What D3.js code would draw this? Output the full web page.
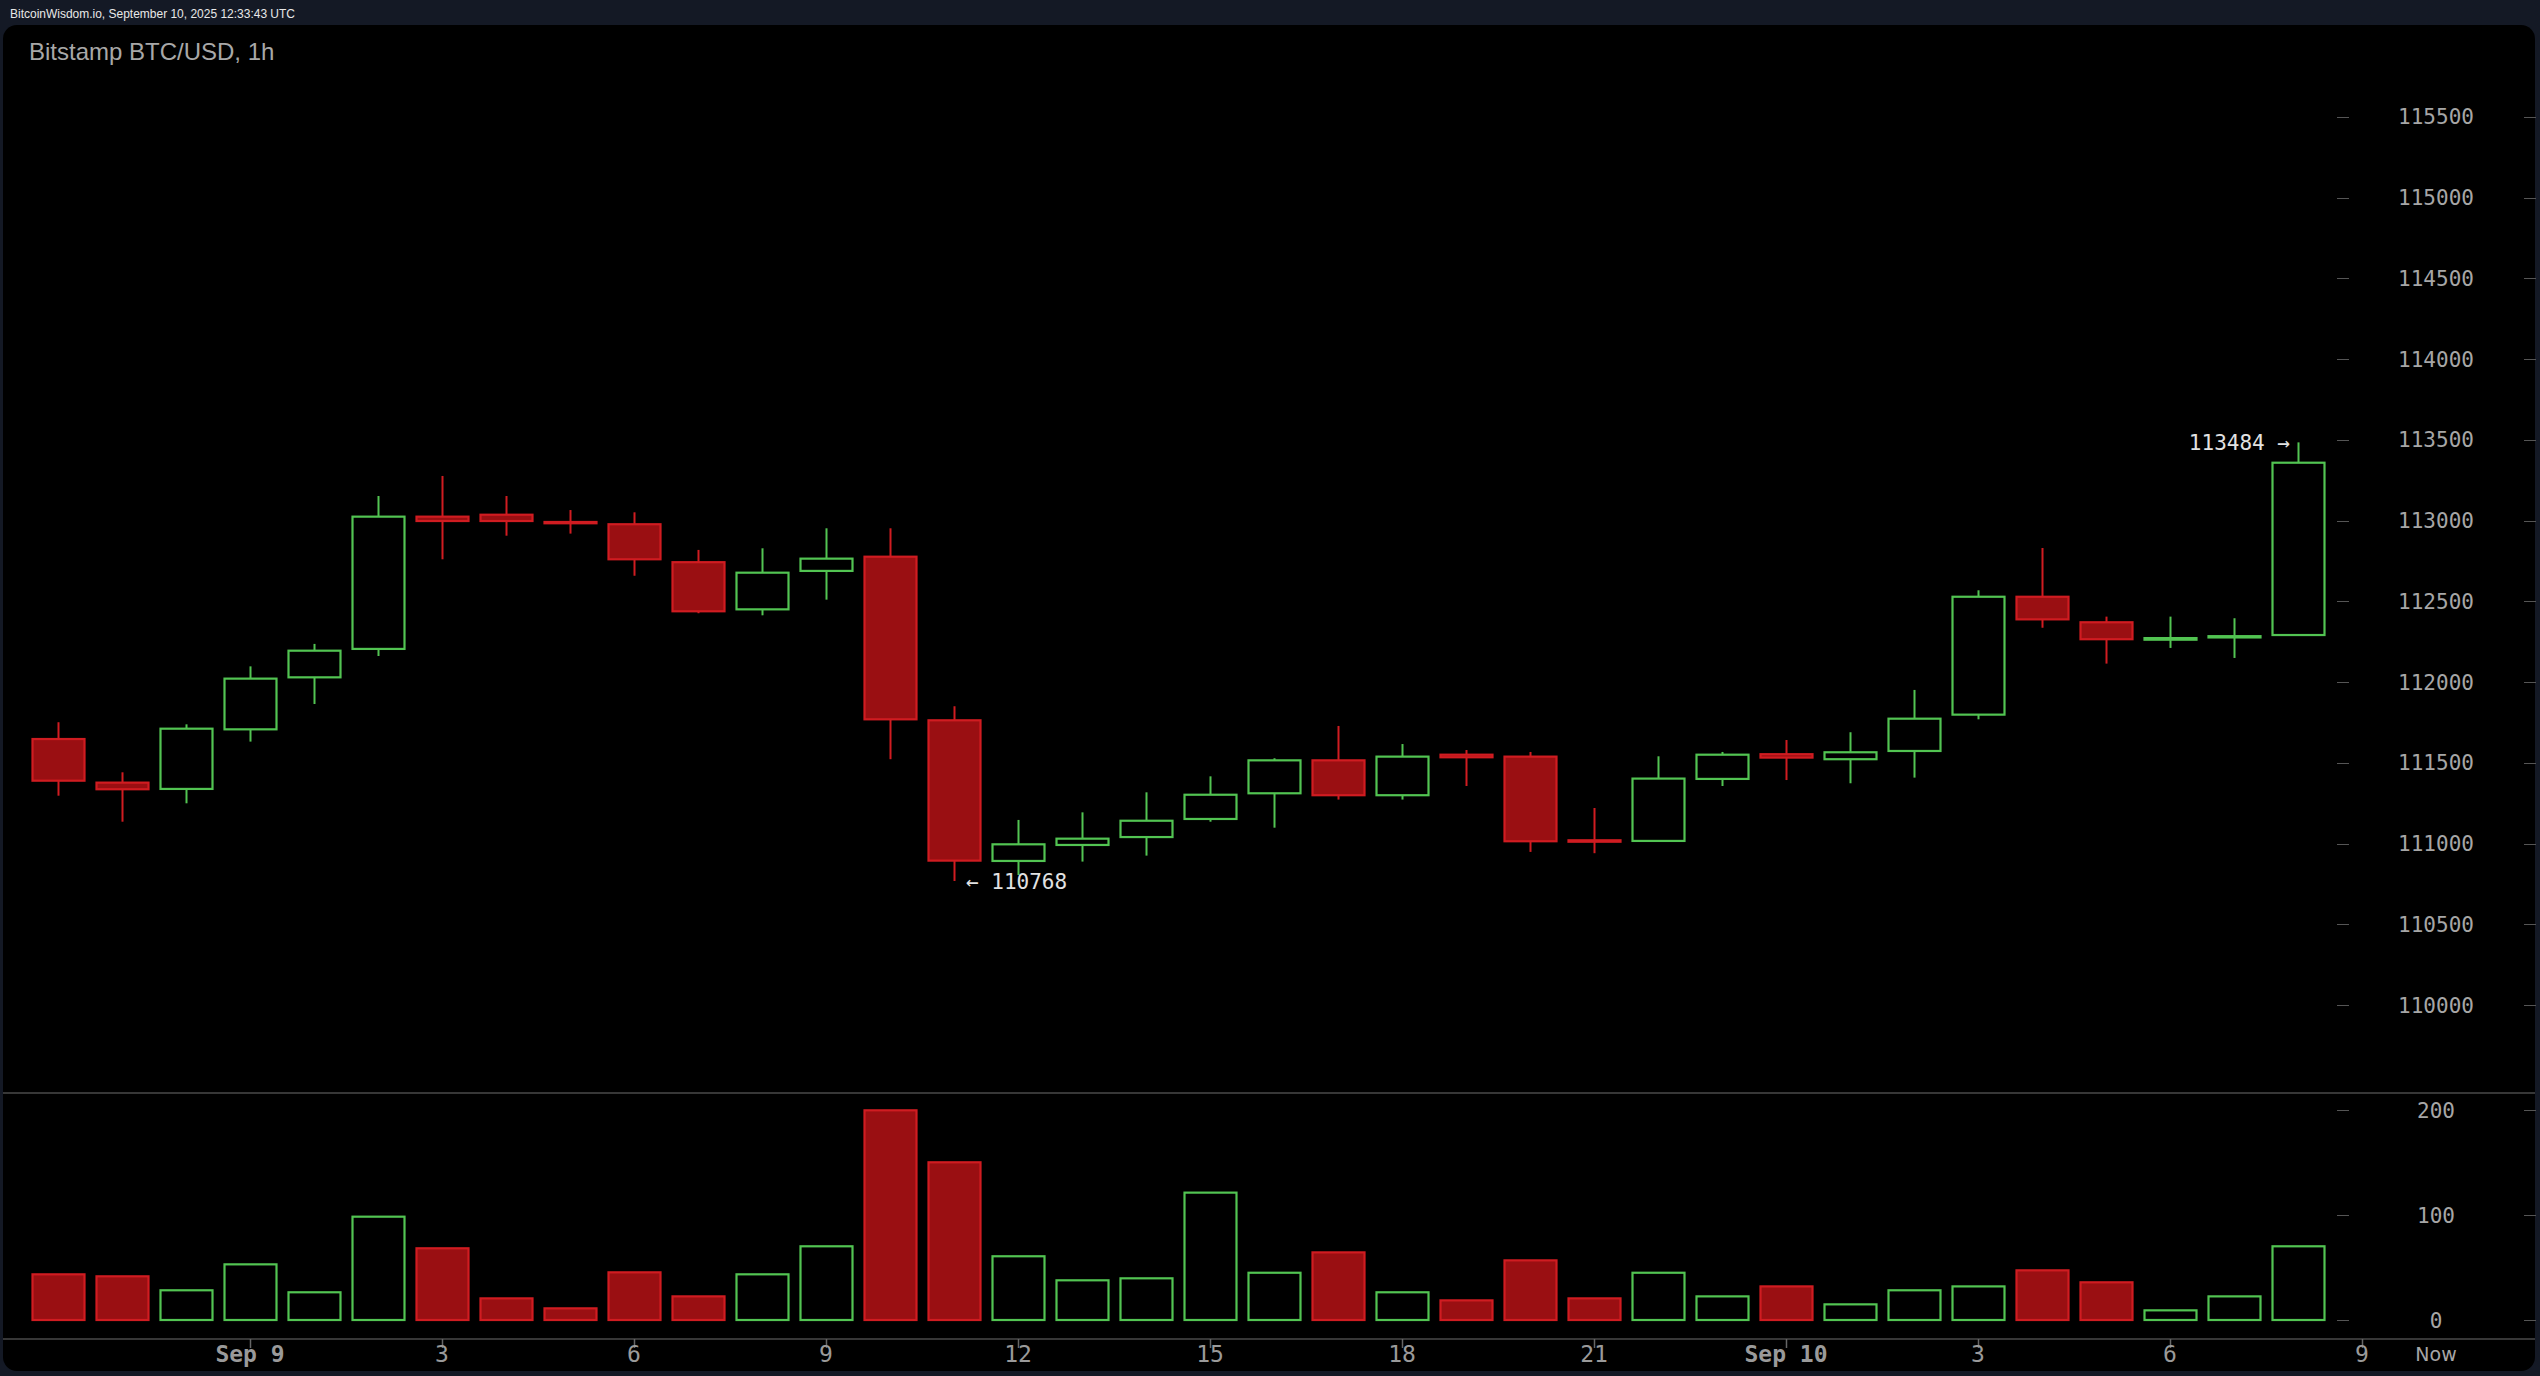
<!DOCTYPE html>
<html>
<head>
<meta charset="utf-8">
<script src="https://cdn.jsdelivr.net/npm/d3@7"></script>
<style>
  html, body { margin: 0; padding: 0; background: #141925; overflow: hidden; }
  svg { display: block; }
</style>
</head>
<body>
<svg id="chart" width="2540" height="1376"></svg>
<script>
// ---------------- DATA ----------------
const categories = [
  "Sep 8 21:00","Sep 8 22:00","Sep 8 23:00","Sep 9 00:00","Sep 9 01:00","Sep 9 02:00",
  "Sep 9 03:00","Sep 9 04:00","Sep 9 05:00","Sep 9 06:00","Sep 9 07:00","Sep 9 08:00",
  "Sep 9 09:00","Sep 9 10:00","Sep 9 11:00","Sep 9 12:00","Sep 9 13:00","Sep 9 14:00",
  "Sep 9 15:00","Sep 9 16:00","Sep 9 17:00","Sep 9 18:00","Sep 9 19:00","Sep 9 20:00",
  "Sep 9 21:00","Sep 9 22:00","Sep 9 23:00","Sep 10 00:00","Sep 10 01:00","Sep 10 02:00",
  "Sep 10 03:00","Sep 10 04:00","Sep 10 05:00","Sep 10 06:00","Sep 10 07:00","Sep 10 08:00"
];
const openPrices  = [111647,111377,111338,111707,112029,112205,113024,113036,112991,112977,112742,112450,
                     112688,112776,111763,110892,110991,111040,111152,111311,111515,111299,111550,111538,
                     111020,111016,111400,111553,111522,111573,111798,112528,112370,112262,112276,112291];
const highPrices  = [111751,111441,111738,112097,112236,113152,113276,113152,113065,113051,112818,112828,
                     112952,112952,111850,111146,111193,111317,111416,111528,111728,111616,111579,111567,
                     111220,111540,111567,111641,111689,111951,112568,112830,112405,112405,112395,113484];
const lowPrices   = [111296,111135,111249,111631,111864,112161,112760,112906,112919,112658,112426,112413,
                     112510,111522,110768,110805,110888,110925,111135,111098,111272,111272,111356,110948,
                     110940,111016,111356,111393,111373,111408,111769,112336,112114,112211,112149,112291];
const closePrices = [111389,111336,111711,112021,112194,113024,112997,112997,112983,112760,112438,112677,
                     112764,111769,110894,110995,111030,111141,111302,111515,111299,111538,111534,111014,
                     111011,111402,111550,111532,111565,111773,112528,112388,112265,112272,112284,113358];
const volumes     = [43.5,41.6,28.3,53,26.4,98.4,68.3,20.6,11.1,45.4,22.5,43.5,
                     70.2,199.7,150.2,60.7,37.8,39.7,121.3,45,64.4,26.4,18.7,56.8,
                     20.6,45,22.5,32,14.9,28.3,32,47.3,35.9,9.2,22.5,70.2];
const priceTicks  = [110000,110500,111000,111500,112000,112500,113000,113500,114000,114500,115000,115500];
const volumeTicks = [0,100,200];
const xTickIndex  = [3,6,9,12,15,18,21,24,27,30,33,36];
const xTickLabels = ["Sep 9","3","6","9","12","15","18","21","Sep 10","3","6","9"];
const xTickBold   = [true,false,false,false,false,false,false,false,true,false,false,false];
const highMarkLabel = "113484 →";
const lowMarkLabel  = "← 110768";
const titleText  = "Bitstamp BTC/USD, 1h";
const headerText = "BitcoinWisdom.io, September 10, 2025 12:33:43 UTC";

// ---------------- DRAW ----------------
const W = 2540, H = 1376;
const svg = d3.select("#chart");
const RED_FILL = "#9a0f12", RED = "#d01c21", GREEN = "#52c452";
const MONO = "'DejaVu Sans Mono', monospace";

// background
svg.append("rect").attr("x",0).attr("y",0).attr("width",W).attr("height",H).attr("fill","#141925");
svg.append("rect").attr("x",3).attr("y",25).attr("width",2532).attr("height",1346)
   .attr("rx",14).attr("ry",14).attr("fill","#000");

// header
svg.append("text").attr("x",10).attr("y",18).text(headerText)
   .attr("font-family","'Liberation Sans', Arial, sans-serif").attr("font-size",12.5)
   .attr("fill","#e8e8e8").attr("textLength",285).attr("lengthAdjust","spacingAndGlyphs");
svg.append("text").attr("x",29).attr("y",60).text(titleText)
   .attr("font-family","'Liberation Sans', Arial, sans-serif").attr("font-size",24)
   .attr("fill","#a8a8a8");

// scales
const x = d3.scaleLinear().domain([0,36]).range([58,2362]);
const yP = d3.scaleLinear().domain([110000,115500]).range([1005,116.8]);
const yV = d3.scaleLinear().domain([0,200]).range([1320,1110]);
const bodyW = 52;

// separator lines
svg.append("line").attr("x1",3).attr("x2",2535).attr("y1",1093).attr("y2",1093)
   .attr("stroke","#4a4a4a").attr("stroke-width",1.5);
svg.append("line").attr("x1",3).attr("x2",2535).attr("y1",1339).attr("y2",1339)
   .attr("stroke","#4a4a4a").attr("stroke-width",1.5);

// price axis ticks & labels
const axisG = svg.append("g");
priceTicks.forEach(t => {
  const y = Math.round(yP(t)) + 0.5;
  axisG.append("line").attr("x1",2337).attr("x2",2349).attr("y1",y).attr("y2",y).attr("stroke","#555");
  axisG.append("line").attr("x1",2524).attr("x2",2536).attr("y1",y).attr("y2",y).attr("stroke","#555");
  axisG.append("text").attr("x",2436).attr("y",yP(t)).attr("dy","0.36em")
     .attr("text-anchor","middle").attr("font-family",MONO).attr("font-size",21)
     .attr("fill","#a6a6a6").text(t);
});
volumeTicks.forEach(t => {
  const y = Math.round(yV(t)) + 0.5;
  axisG.append("line").attr("x1",2337).attr("x2",2349).attr("y1",y).attr("y2",y).attr("stroke","#555");
  axisG.append("line").attr("x1",2524).attr("x2",2536).attr("y1",y).attr("y2",y).attr("stroke","#555");
  axisG.append("text").attr("x",2436).attr("y",yV(t)).attr("dy","0.36em")
     .attr("text-anchor","middle").attr("font-family",MONO).attr("font-size",21)
     .attr("fill","#a6a6a6").text(t);
});

// x axis ticks & labels
xTickIndex.forEach((idx,k) => {
  const xx = Math.round(x(idx)) + 0.5;
  svg.append("line").attr("x1",xx).attr("x2",xx).attr("y1",1339).attr("y2",1348)
     .attr("stroke","#666").attr("stroke-width",1.5);
  svg.append("text").attr("x",x(idx)).attr("y",1362).attr("text-anchor","middle")
     .attr("font-family",MONO).attr("font-size",23)
     .attr("font-weight", xTickBold[k] ? "bold" : "normal")
     .attr("fill","#9a9a9a").text(xTickLabels[k]);
});
svg.append("text").attr("x",2436).attr("y",1361).attr("text-anchor","middle")
   .attr("font-family","'DejaVu Sans', sans-serif").attr("font-size",19)
   .attr("fill","#a6a6a6").text("Now");

// candles
const data = categories.map((c,i) => ({
  i, c, o: openPrices[i], h: highPrices[i], l: lowPrices[i], cl: closePrices[i], v: volumes[i],
  up: closePrices[i] >= openPrices[i]
}));

const cg = svg.append("g");
cg.selectAll("line.wick").data(data).enter().append("line")
  .attr("class","wick")
  .attr("x1",d => Math.round(x(d.i))+0.5).attr("x2",d => Math.round(x(d.i))+0.5)
  .attr("y1",d => yP(d.h)).attr("y2",d => yP(d.l))
  .attr("stroke",d => d.up ? GREEN : RED).attr("stroke-width",2);

cg.selectAll("rect.body").data(data).enter().append("rect")
  .attr("class","body")
  .attr("x",d => Math.round(x(d.i)) - bodyW/2 + 0.5)
  .attr("width",bodyW)
  .attr("y",d => Math.min(yP(d.o), yP(d.cl)))
  .attr("height",d => Math.max(Math.abs(yP(d.o) - yP(d.cl)), 0.5))
  .attr("fill",d => d.up ? "#000" : RED_FILL)
  .attr("stroke",d => d.up ? GREEN : RED).attr("stroke-width",2.2);

// volume bars
cg.selectAll("rect.vol").data(data).enter().append("rect")
  .attr("class","vol")
  .attr("x",d => Math.round(x(d.i)) - bodyW/2 + 0.5)
  .attr("width",bodyW)
  .attr("y",d => yV(d.v))
  .attr("height",d => yV(0) - yV(d.v))
  .attr("fill",d => d.up ? "#000" : RED_FILL)
  .attr("stroke",d => d.up ? GREEN : RED).attr("stroke-width",2.2);

// high / low markers
const hiIdx = d3.maxIndex(highPrices), loIdx = d3.minIndex(lowPrices);
svg.append("text").attr("x",x(hiIdx) - 8).attr("y",yP(highPrices[hiIdx])).attr("dy","0.36em")
   .attr("text-anchor","end").attr("font-family",MONO).attr("font-size",21)
   .attr("fill","#e2e2e2").text(highMarkLabel);
svg.append("text").attr("x",x(loIdx) + 12).attr("y",yP(lowPrices[loIdx])).attr("dy","0.36em")
   .attr("text-anchor","start").attr("font-family",MONO).attr("font-size",21)
   .attr("fill","#e2e2e2").text(lowMarkLabel);
</script>
</body>
</html>
